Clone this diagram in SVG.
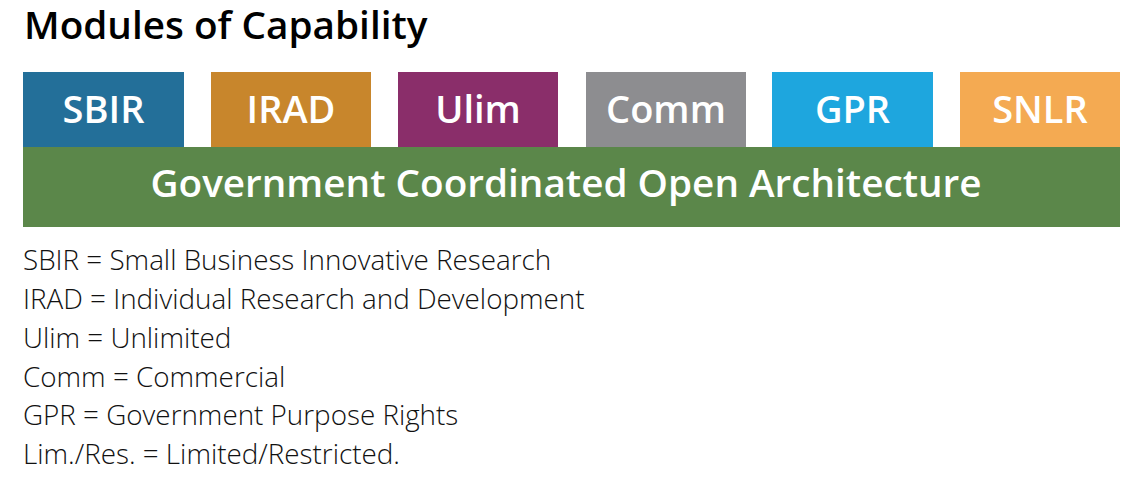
<svg xmlns="http://www.w3.org/2000/svg" width="1147" height="495" viewBox="0 0 1147 495">
<style>
.title{font-family:"Open Sans","Liberation Sans",sans-serif;font-weight:600;font-size:38.7px;fill:#000}
.lbl{font-family:"Open Sans","Liberation Sans",sans-serif;font-weight:600;font-size:38px;fill:#fff;text-anchor:middle}
.big{font-size:38.7px}
.legend{font-family:"Open Sans","Liberation Sans",sans-serif;font-weight:300;font-size:27.8px;fill:#111}
</style>
<rect width="1147" height="495" fill="#fff"/>
<text class="title" x="24" y="39">Modules of Capability</text>
<g id="sbir"><rect x="23" y="72" width="161" height="76" fill="#236f99"/><text class="lbl" x="103.5" y="123">SBIR</text></g>
<g id="irad"><rect x="211" y="72" width="160" height="76" fill="#c8862c"/><text class="lbl" x="291" y="123">IRAD</text></g>
<g id="ulim"><rect x="398" y="72" width="160" height="76" fill="#8a2e6a"/><text class="lbl" x="478" y="123">Ulim</text></g>
<g id="comm"><rect x="586" y="72" width="160" height="76" fill="#8d8d90"/><text class="lbl" x="666" y="123">Comm</text></g>
<g id="gpr"><rect x="772" y="72" width="161" height="76" fill="#1ea6de"/><text class="lbl" x="852.5" y="123">GPR</text></g>
<g id="snlr"><rect x="960" y="72" width="160" height="76" fill="#f4aa52"/><text class="lbl" x="1040" y="123">SNLR</text></g>
<g id="gcoa"><rect x="23" y="147" width="1097" height="80" fill="#5b874a"/><text class="lbl big" x="566" y="197">Government Coordinated Open Architecture</text></g>
<g id="legend">
<text class="legend" x="23" y="270">SBIR = Small Business Innovative Research</text>
<text class="legend" x="23" y="309">IRAD = Individual Research and Development</text>
<text class="legend" x="23" y="348">Ulim = Unlimited</text>
<text class="legend" x="23" y="387">Comm = Commercial</text>
<text class="legend" x="23" y="425">GPR = Government Purpose Rights</text>
<text class="legend" x="23" y="464">Lim./Res. = Limited/Restricted.</text>
</g>
<g id="connectors"></g>
</svg>
